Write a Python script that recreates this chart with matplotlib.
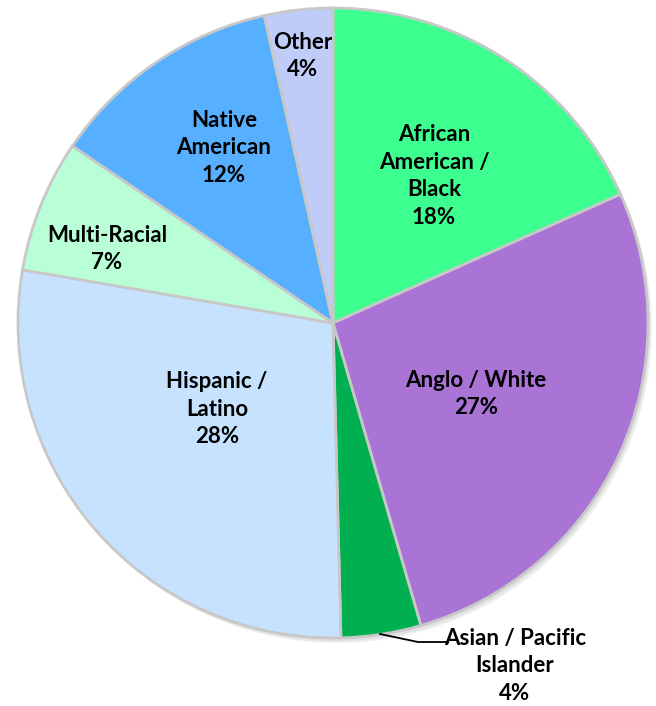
import matplotlib.pyplot as plt
from matplotlib.patches import Circle

# slice order: clockwise from 12 o'clock
groups = ["African\nAmerican /\nBlack", "Anglo / White", "Asian / Pacific\nIslander",
          "Hispanic /\nLatino", "Multi-Racial", "Native\nAmerican", "Other"]
shares = [18.3, 27.2, 4.1, 28.1, 6.8, 12.0, 3.5]
colors = ["#3DFF8F", "#A974D6", "#00B050", "#C6E2FF", "#B8FFD8", "#57B0FF", "#C0CCF8"]

# label centres in pixel coords (x, y from top)
label_pos = [(434, 176), (476, 394), (515, 666), (217, 409), (107, 249), (224, 148), (303, 56)]

W, H = 656, 706
fig = plt.figure(figsize=(W / 100, H / 100), dpi=100)
ax = fig.add_axes([0, 0, 1, 1])

cx, cy, r = 333, H - 323, 315

# soft shadow behind the pie
for i, a in enumerate([0.06, 0.08, 0.10]):
    ax.add_patch(Circle((cx + 2 + i, cy - 3 - i), r, color="#808080", alpha=a, lw=0, zorder=0))

wedges, _ = ax.pie(shares, colors=colors, startangle=90, counterclock=False,
                   center=(cx, cy), radius=r, frame=True,
                   wedgeprops=dict(edgecolor="#C8C8C8", linewidth=2))
for w in wedges:
    w.set_zorder(1)
ax.set_xlim(0, W)
ax.set_ylim(0, H)
ax.set_aspect("equal")
ax.axis("off")

for name, val, (x, y) in zip(groups, shares, label_pos):
    ax.text(x, H - y, f"{name}\n{round(val)}%", ha="center", va="center",
            fontsize=16, fontweight="bold", family=["Lato", "DejaVu Sans"],
            linespacing=1.38, zorder=3)

# leader line for the small Asian slice
ax.plot([380, 418, 448], [H - 634, H - 642, H - 642], color="black", lw=1.3, zorder=3)

fig.savefig("out.png", dpi=100)
